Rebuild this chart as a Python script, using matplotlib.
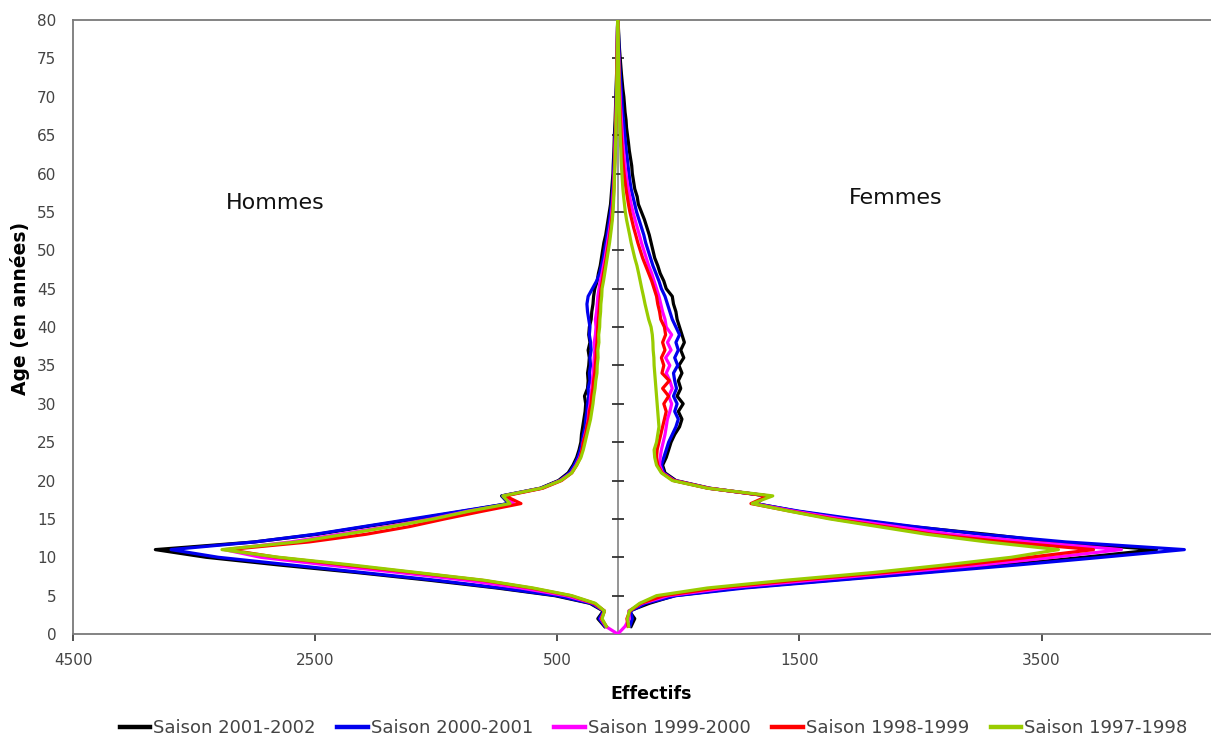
import numpy as np
import matplotlib
matplotlib.use("Agg")
import matplotlib.pyplot as plt
from matplotlib.ticker import FuncFormatter

nan = np.nan

# ages 0..80
ages = np.arange(0, 81)

seasons = ["Saison 2001-2002", "Saison 2000-2001", "Saison 1999-2000",
           "Saison 1998-1999", "Saison 1997-1998"]
colors = ["#000000", "#0000ee", "#ff00ff", "#ff0000", "#99cc00"]

# Hommes (counts, drawn on the left)
men_0102 = [nan, 110, 165, 120, 230, 520, 1000, 1550, 2150, 2800, 3400, 3820, 3000, 2480, 2080, 1660,
            1280, 900, 960, 640, 490, 410, 370, 340, 320, 305, 300, 290, 280, 270, 265,
            275, 250, 245, 250, 240, 235, 245, 230, 240, 235, 220, 215, 205, 200, 190,
            170, 160, 145, 135, 125, 115, 100, 90, 80, 70, 60, 55, 50, 45, 40,
            38, 35, 32, 30, 28, 25, 22, 20, 18, 16, 14, 12, 10, 9, 8, 6, 5, 4, 3, 1]
men_0001 = [nan, 105, 155, 115, 220, 500, 970, 1500, 2100, 2700, 3300, 3690, 3000, 2500, 2100, 1700,
            1300, 900, 955, 635, 480, 400, 360, 330, 310, 295, 285, 270, 265, 255, 250,
            240, 245, 230, 235, 225, 230, 220, 225, 235, 230, 240, 250, 255, 245, 210,
            175, 150, 135, 120, 110, 98, 88, 78, 68, 60, 52, 46, 42, 38, 35,
            32, 30, 28, 25, 22, 20, 18, 16, 14, 13, 11, 10, 8, 7, 6, 5, 4, 3, 2, 1]
men_9900 = [0, 100, 140, 110, 200, 430, 800, 1250, 1800, 2400, 2950, 3250, 2700, 2300, 1900, 1540,
            1240, 860, 945, 625, 475, 385, 345, 315, 295, 285, 270, 255, 245, 240, 230,
            225, 215, 210, 205, 200, 195, 190, 195, 185, 180, 185, 175, 170, 165, 155,
            145, 130, 118, 105, 95, 85, 75, 65, 56, 50, 44, 40, 36, 33, 30,
            28, 26, 24, 22, 20, 18, 16, 14, 12, 11, 10, 9, 8, 7, 6, 5, 4, 3, 2, 1]
men_9899 = [nan, 95, 135, 110, 195, 390, 720, 1120, 1680, 2250, 2820, 3220, 2550, 2080, 1720, 1430,
            1120, 800, 930, 620, 465, 380, 340, 310, 295, 285, 265, 255, 240, 235, 220,
            215, 205, 200, 190, 185, 180, 178, 172, 168, 165, 160, 155, 150, 145, 138,
            128, 118, 106, 95, 85, 75, 66, 58, 50, 44, 40, 36, 33, 30, 28,
            26, 24, 22, 20, 18, 16, 15, 13, 12, 11, 10, 9, 8, 7, 6, 5, 4, 3, 2, 1]
men_9798 = [nan, 95, 130, 110, 185, 380, 700, 1100, 1650, 2200, 2800, 3270, 2650, 2250, 1870, 1520,
            1230, 890, 950, 630, 470, 380, 340, 305, 285, 270, 255, 240, 225, 215, 205,
            198, 188, 182, 172, 170, 163, 165, 156, 158, 150, 148, 142, 140, 133, 130,
            118, 108, 98, 88, 78, 68, 60, 52, 45, 40, 36, 33, 30, 28, 26,
            24, 22, 20, 18, 16, 15, 14, 12, 11, 10, 9, 8, 7, 6, 5, 4, 3, 2, 2, 1]

# Femmes (counts, drawn on the right)
wom_0102 = [nan, 110, 140, 95, 260, 470, 1000, 1750, 2500, 3200, 3850, 4450, 3600, 3050, 2420, 1900,
            1480, 1140, 1230, 760, 480, 390, 370, 400, 420, 440, 470, 510, 530, 500, 540,
            490, 520, 500, 530, 505, 545, 520, 550, 530, 510, 490, 480, 460, 450, 400,
            380, 350, 330, 305, 290, 275, 260, 240, 220, 195, 170, 160, 140, 130, 120,
            115, 105, 95, 88, 80, 72, 68, 60, 55, 50, 42, 36, 30, 25, 20, 15, 11, 8, 5, 2]
wom_0001 = [nan, 100, 120, 105, 230, 480, 1050, 1800, 2550, 3300, 4000, 4680, 3700, 3000, 2450, 1950,
            1500, 1130, 1240, 750, 470, 380, 360, 380, 400, 420, 450, 480, 500, 470, 490,
            460, 485, 470, 460, 495, 470, 500, 480, 510, 480, 450, 430, 410, 390, 360,
            340, 315, 290, 270, 250, 230, 215, 195, 175, 155, 140, 125, 110, 100, 92,
            85, 78, 70, 64, 58, 52, 46, 40, 36, 32, 28, 24, 20, 16, 13, 10, 8, 6, 4, 2]
wom_9900 = [0, 60, 95, 90, 200, 420, 900, 1600, 2300, 3000, 3600, 4160, 3400, 2750, 2300, 1850,
            1460, 1120, 1250, 750, 465, 370, 345, 350, 360, 375, 390, 400, 410, 430, 445,
            420, 450, 430, 400, 430, 395, 440, 410, 445, 400, 390, 370, 355, 340, 320,
            300, 280, 255, 235, 215, 195, 178, 160, 142, 125, 110, 98, 86, 76, 68,
            60, 54, 48, 42, 38, 34, 30, 26, 22, 20, 17, 14, 12, 10, 8, 6, 5, 4, 3, 1]
wom_9899 = [nan, 85, 75, 100, 190, 380, 820, 1480, 2200, 2850, 3400, 3930, 3200, 2600, 2200, 1780,
            1430, 1100, 1240, 745, 460, 365, 330, 320, 325, 340, 355, 370, 385, 400, 380,
            420, 370, 425, 365, 380, 360, 390, 370, 395, 385, 355, 345, 330, 320, 300,
            280, 255, 230, 205, 185, 165, 148, 130, 115, 100, 88, 78, 68, 60, 52,
            46, 40, 36, 32, 28, 25, 22, 19, 16, 14, 12, 10, 9, 8, 6, 5, 4, 3, 2, 1]
wom_9798 = [nan, 90, 80, 95, 180, 320, 740, 1380, 2100, 2700, 3250, 3640, 3050, 2550, 2150, 1750,
            1420, 1110, 1280, 740, 450, 360, 320, 305, 300, 320, 330, 340, 335, 330, 325,
            320, 315, 310, 305, 300, 298, 292, 290, 285, 275, 255, 240, 225, 212, 198,
            185, 172, 158, 140, 125, 110, 98, 85, 72, 62, 55, 48, 42, 38, 34,
            30, 27, 25, 22, 20, 18, 16, 14, 13, 12, 10, 9, 8, 7, 6, 5, 4, 3, 2, 1]

men = [men_0102, men_0001, men_9900, men_9899, men_9798]
women = [wom_0102, wom_0001, wom_9900, wom_9899, wom_9798]

xticks = [-4500, -2500, -500, 1500, 3500]
yticks = np.arange(0, 81, 5)

plt.rcParams['font.family'] = ['DejaVu Sans']

fig = plt.figure(figsize=(12.11, 7.40), dpi=100)
ax = fig.add_axes([0.0603, 0.1432, 0.9397, 0.8297])

# center axis with its small tick marks
ax.axvline(0, color="#8c8c8c", lw=1.3, zorder=1)
ax.plot(np.zeros(len(yticks) - 2), yticks[1:-1], linestyle="none", marker="_",
        markersize=9, markeredgewidth=1.3, color="#333333", zorder=1)

for name, col, m, w in zip(seasons, colors, men, women):
    ax.plot(-np.array(m, dtype=float), ages, color=col, lw=2.3, label=name, zorder=3)
    ax.plot(np.array(w, dtype=float), ages, color=col, lw=2.3, zorder=3)

ax.set_xlim(-4500, 4900)
ax.set_ylim(0, 80)
ax.set_xticks(xticks)
ax.xaxis.set_major_formatter(FuncFormatter(lambda v, p: "%d" % abs(v)))
ax.set_yticks(yticks)

for s in ["left", "top", "bottom"]:
    ax.spines[s].set_color("#7a7a7a")
    ax.spines[s].set_linewidth(1.3)
ax.spines["right"].set_visible(False)

ax.tick_params(axis="x", direction="out", length=5, width=1.2, color="#333333",
               labelsize=11, labelcolor="#444444", pad=9)
ax.tick_params(axis="y", length=0, labelsize=11, labelcolor="#444444", pad=12)

ax.text(-2826, 56.2, "Hommes", fontsize=16, ha="center", va="center", color="#111111")
ax.text(2298, 56.8, "Femmes", fontsize=16, ha="center", va="center", color="#111111")

ax.set_xlabel("Effectifs", fontsize=12.5, fontweight="bold")
ax.xaxis.set_label_coords(0.508, -0.083)
ax.set_ylabel("Age (en années)", fontsize=13.5, fontweight="bold")
ax.yaxis.set_label_coords(-0.038, 0.53)

leg = ax.legend(loc="center", bbox_to_anchor=(0.51, -0.153), ncol=5, frameon=False,
                fontsize=13, handlelength=1.7, handletextpad=0.15, columnspacing=1.2)
for t in leg.get_texts():
    t.set_color("#444444")
for h in leg.get_lines():
    h.set_linewidth(3.2)

fig.savefig("out.png", dpi=100)
